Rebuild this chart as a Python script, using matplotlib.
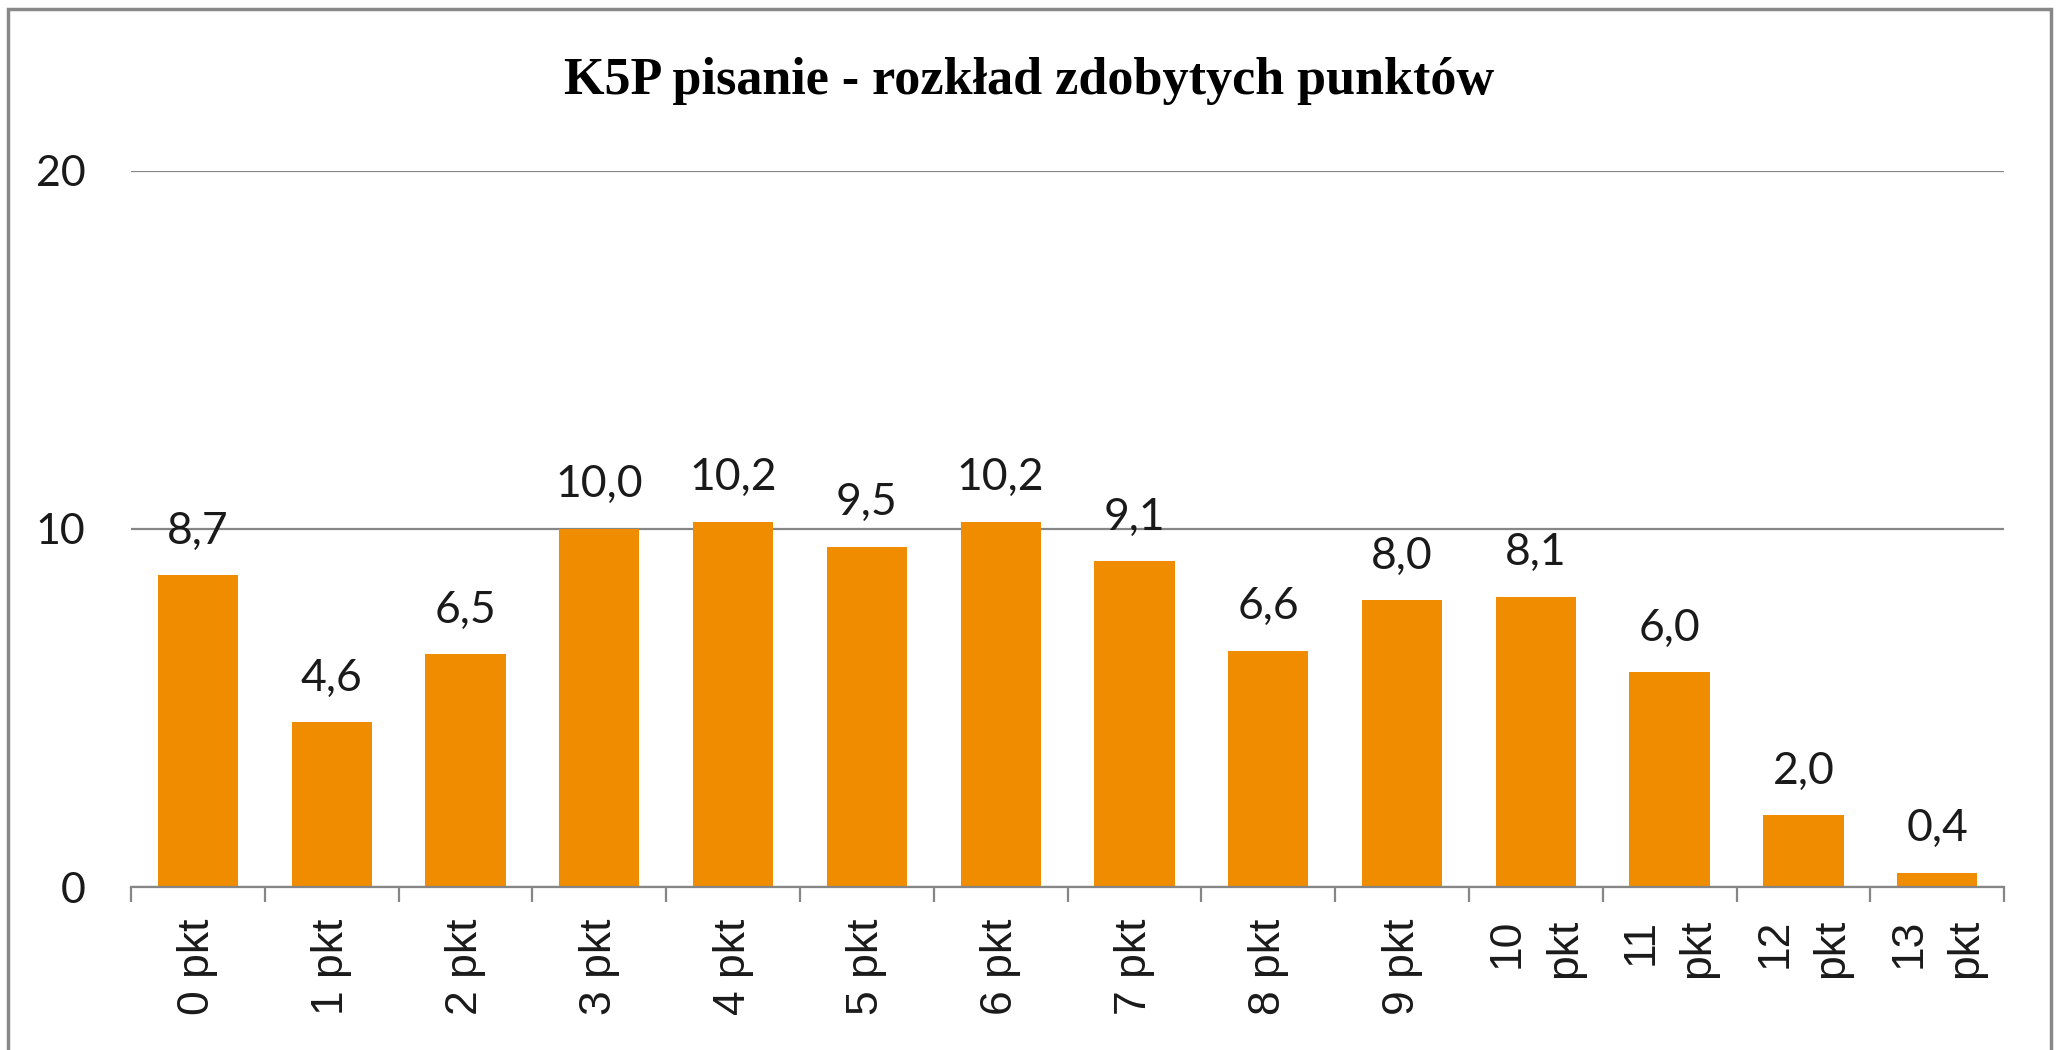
import matplotlib
matplotlib.use("Agg")
import matplotlib.pyplot as plt
from matplotlib.patches import Rectangle

# dane z wykresu
categories = ["0 pkt", "1 pkt", "2 pkt", "3 pkt", "4 pkt", "5 pkt", "6 pkt",
              "7 pkt", "8 pkt", "9 pkt", "10\npkt", "11\npkt", "12\npkt", "13\npkt"]
values = [8.7, 4.6, 6.5, 10.0, 10.2, 9.5, 10.2, 9.1, 6.6, 8.0, 8.1, 6.0, 2.0, 0.4]
y_ticks = [0, 10, 20]
title = "K5P pisanie - rozkład zdobytych punktów"

BAR_COLOR = "#F08C00"
GRID_COLOR = "#868686"

fig = plt.figure(figsize=(20.58, 10.5), dpi=100)
ax = fig.add_axes([0.0637, 0.1552, 0.9101, 0.6823])

x = list(range(len(values)))
ax.bar(x, values, width=0.6, color=BAR_COLOR, zorder=3)

# etykiety wartości z przecinkiem dziesiętnym
for xi, v in zip(x, values):
    ax.annotate(f"{v:.1f}".replace(".", ","), (xi, v), xytext=(0, 17),
                textcoords="offset points", ha="center", va="bottom",
                fontsize=32, family="Lato", color="#1a1a1a", zorder=4)

ax.set_xlim(-0.5, len(values) - 0.5)
ax.set_ylim(0, 20)
ax.set_yticks(y_ticks)
ax.set_yticklabels([str(t) for t in y_ticks], fontsize=31, family="Lato", color="#1a1a1a")
ax.tick_params(axis="y", length=0, pad=33)
ax.yaxis.grid(True, color=GRID_COLOR, linewidth=1.6, zorder=0)

ax.set_xticks(x)
ax.set_xticklabels(categories, rotation=90, fontsize=32, family="Liberation Sans",
                   color="#1a1a1a", linespacing=1.5)
for lbl in ax.get_xticklabels():
    lbl.set_multialignment("right")
ax.set_xticks([i - 0.5 for i in range(len(values) + 1)], minor=True)
ax.tick_params(axis="x", which="major", length=0, pad=23)
ax.tick_params(axis="x", which="minor", length=11, width=1.6, color=GRID_COLOR)

for side in ["left", "right", "top"]:
    ax.spines[side].set_visible(False)
ax.spines["bottom"].set_color(GRID_COLOR)
ax.spines["bottom"].set_linewidth(1.6)
ax.spines["bottom"].set_zorder(5)

fig.text(0.5, 0.923, title, ha="center", va="center", fontsize=37.5,
         family="Liberation Serif", weight="bold", color="black")

# szara ramka wykresu (dolna krawędź ucięta)
fig.patches.append(Rectangle((8 / 2058, -0.05), 2043 / 2058, 1.05 - 9 / 1050,
                             transform=fig.transFigure, fill=False,
                             edgecolor="#888888", linewidth=2.5))

plt.savefig("out.png", dpi=100)
